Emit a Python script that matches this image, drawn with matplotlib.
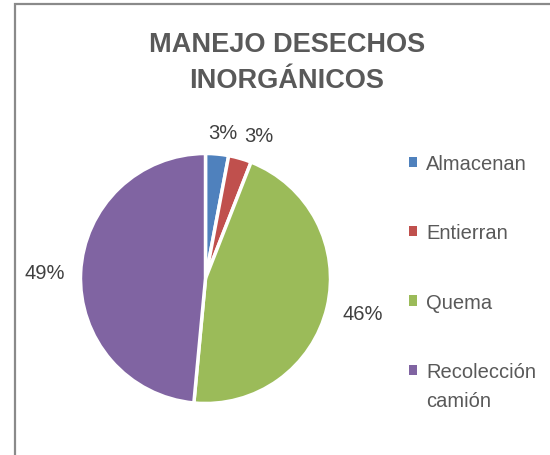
import matplotlib
matplotlib.use("Agg")
import matplotlib.pyplot as plt
from matplotlib.patches import Rectangle
from matplotlib.legend_handler import HandlerPatch
import numpy as np

categories = ["Almacenan", "Entierran", "Quema", "Recolección\ncamión"]
values = [3, 3, 46, 49]
colors = ["#4F81BD", "#C0504D", "#9BBB59", "#8064A2"]
title = "MANEJO DESECHOS\nINORGÁNICOS"

plt.rcParams["font.family"] = ["Liberation Sans Narrow", "Liberation Sans", "DejaVu Sans"]
TEXT = "#595959"

W, H = 550, 456
fig = plt.figure(figsize=(W / 100, H / 100), dpi=100)
fig.patch.set_facecolor("white")

# chart frame (left and top edges visible)
fig.patches.append(Rectangle((15 / W, -0.1), 1.2, (H - 5) / H + 0.1,
                             transform=fig.transFigure, fill=False,
                             edgecolor="#8a8a8a", linewidth=1.6))

cx, cy, r = 205.5, 279.5, 125
ax = fig.add_axes([(cx - r) / W, (H - cy - r) / H, 2 * r / W, 2 * r / H])
wedges, _ = ax.pie(values, colors=colors, startangle=90, counterclock=False,
                   radius=1, wedgeprops=dict(edgecolor="white", linewidth=2.5))
ax.set_xlim(-1, 1)
ax.set_ylim(-1, 1)
ax.set_aspect("equal")
ax.axis("off")

# percentage labels just outside each slice
total = sum(values)
start = 90.0
dists = [1.175, 1.225, 1.29, 1.29]
nudges = [-1.5, -4.5, 1.0, 0.7]
for v, d, n in zip(values, dists, nudges):
    sweep = v / total * 360
    mid = np.deg2rad(start - sweep / 2 + n)
    ax.text(d * np.cos(mid), d * np.sin(mid), f"{v}%", ha="center", va="center",
            fontsize=14.5, color="#404040")
    start -= sweep

fig.text(287 / W, 1 - 63.5 / H, title, ha="center", va="center", fontsize=19.5,
         fontweight="bold", color=TEXT, linespacing=1.5)

LEG_FS = 14.5
LINE_SP = 1.65


def square_marker(legend, orig_handle, xdescent, ydescent, width, height, fontsize):
    # keep the square level with the first line of a wrapped label
    label = orig_handle.get_label()
    lines = label.count("\n")
    shift = lines * fontsize * LINE_SP * 0.5 * 0.98
    return Rectangle((-xdescent, -ydescent + shift), width, height)


for w, lab in zip(wedges, categories):
    w.set_label(lab)

leg = fig.legend(wedges, categories, loc="upper left",
                 bbox_to_anchor=(409 / W, 1 - 155 / H), frameon=False,
                 fontsize=LEG_FS, labelcolor=TEXT, handlelength=0.4, handleheight=0.4,
                 handletextpad=0.45, labelspacing=2.5, borderaxespad=0, borderpad=0,
                 handler_map={w: HandlerPatch(patch_func=square_marker) for w in wedges})
for h in leg.legend_handles:
    h.set_edgecolor("none")
for t in leg.get_texts():
    t.set_linespacing(LINE_SP)

fig.savefig("out.png", dpi=100)
